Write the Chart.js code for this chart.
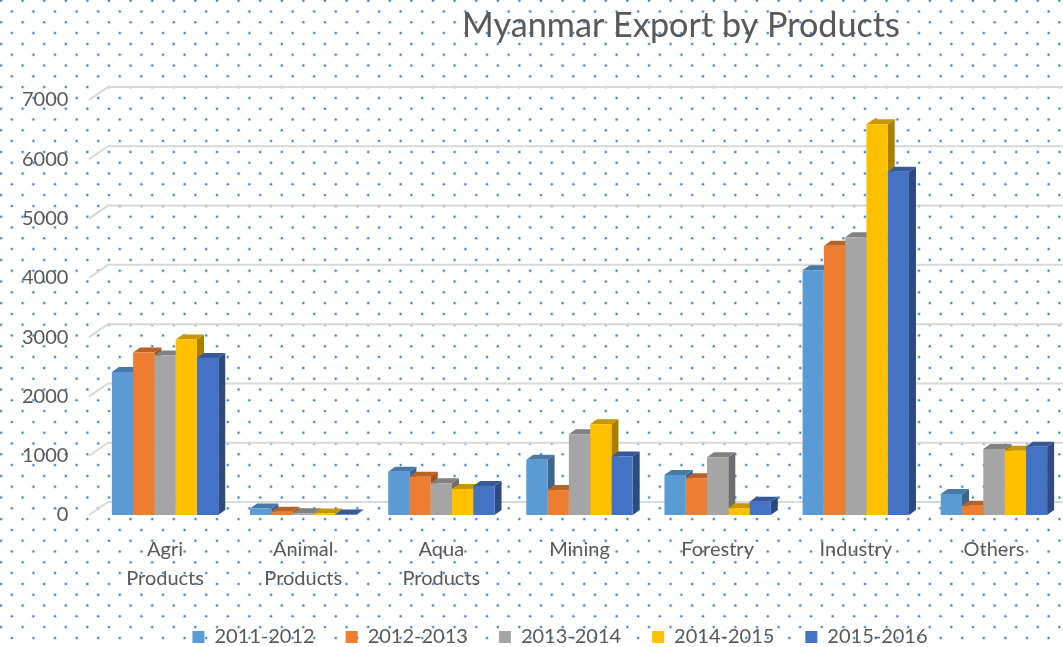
<!DOCTYPE html>
<html>
<head>
<meta charset="utf-8">
<title>Myanmar Export by Products</title>
<script src="https://cdn.jsdelivr.net/npm/chart.js@4.4.0/dist/chart.umd.min.js"></script>
<style>
  html, body { margin: 0; padding: 0; background: #fff; }
</style>
</head>
<body>
<canvas id="exportChart" width="1063" height="647"></canvas>
<script>
// chart data
const categories = [['Agri', 'Products'], ['Animal', 'Products'], ['Aqua', 'Products'], 'Mining', 'Forestry', 'Industry', 'Others'];
const seriesNames = ['2011-2012', '2012-2013', '2013-2014', '2014-2015', '2015-2016'];
const values2011 = [2410, 110, 730, 930, 675, 4130, 355];
const values2012 = [2740, 55, 645, 420, 620, 4540, 155];
const values2013 = [2690, 30, 535, 1360, 975, 4685, 1115];
const values2014 = [2960, 25, 440, 1530, 115, 6590, 1085];
const values2015 = [2650, 10, 490, 985, 225, 5790, 1150];
const yTicks = [0, 1000, 2000, 3000, 4000, 5000, 6000, 7000];
const chartTitle = 'Myanmar Export by Products';

const seriesValues = [values2011, values2012, values2013, values2014, values2015];
const seriesColors = ['#5B9BD5', '#ED7D31', '#A5A5A5', '#FFC000', '#4472C4'];

// darken a hex colour for the 3d faces
function shade(hex, f) {
    const n = parseInt(hex.slice(1), 16);
    const r = Math.round(((n >> 16) & 255) * f);
    const g = Math.round(((n >> 8) & 255) * f);
    const b = Math.round((n & 255) * f);
    return `rgb(${r},${g},${b})`;
}

// dotted backdrop like the excel pattern fill
const dottedBackground = {
    id: 'dottedBackground',
    beforeDraw(chart) {
        const ctx = chart.ctx;
        ctx.save();
        ctx.fillStyle = '#ffffff';
        ctx.fillRect(0, 0, chart.width, chart.height);
        const step = 21.6;
        for (let row = 0; row * step / 2 < chart.height + step; row++) {
            const y = 0.7 + row * step / 2;
            const xOff = (row % 2 === 0) ? 1 : 1 + step / 2;
            for (let x = xOff; x < chart.width + step; x += step) {
                ctx.fillStyle = 'rgba(91,155,213,0.3)';
                ctx.beginPath();
                ctx.arc(x, y, 1.9, 0, Math.PI * 2);
                ctx.fill();
                ctx.fillStyle = '#2a7fd0';
                ctx.beginPath();
                ctx.arc(x, y, 1.0, 0, Math.PI * 2);
                ctx.fill();
            }
        }
        ctx.restore();
    }
};

// back-wall gridlines plus the side and top faces of each column
const bars3d = {
    id: 'bars3d',
    beforeDatasetsDraw(chart) {
        const ctx = chart.ctx;
        const area = chart.chartArea;
        const yScale = chart.scales.y;
        ctx.save();
        ctx.strokeStyle = '#d9d9d9';
        ctx.lineWidth = 2;
        yTicks.forEach(v => {
            const y = yScale.getPixelForValue(v);
            ctx.beginPath();
            ctx.moveTo(area.left - 7, y);
            ctx.lineTo(area.left + 12, y - 13);
            ctx.lineTo(chart.width, y - 13);
            ctx.stroke();
        });

        const dx = 7, dy = -5;
        chart.data.datasets.forEach((ds, i) => {
            const meta = chart.getDatasetMeta(i);
            meta.data.forEach(bar => {
                const { x, y, base, width } = bar.getProps(['x', 'y', 'base', 'width'], true);
                const left = x - width / 2;
                const right = x + width / 2;
                // side
                ctx.fillStyle = shade(seriesColors[i], 0.66);
                ctx.beginPath();
                ctx.moveTo(right, y);
                ctx.lineTo(right + dx, y + dy);
                ctx.lineTo(right + dx, base + dy);
                ctx.lineTo(right, base);
                ctx.closePath();
                ctx.fill();
                // top
                ctx.fillStyle = shade(seriesColors[i], 0.78);
                ctx.beginPath();
                ctx.moveTo(left, y);
                ctx.lineTo(left + dx, y + dy);
                ctx.lineTo(right + dx, y + dy);
                ctx.lineTo(right, y);
                ctx.closePath();
                ctx.fill();
            });
        });
        ctx.restore();
    }
};

// title sits right of centre in the original
const titleText = {
    id: 'titleText',
    afterDraw(chart) {
        const ctx = chart.ctx;
        ctx.save();
        ctx.font = '30px Lato';
        const size = 30 * 438 / ctx.measureText(chartTitle).width;
        ctx.font = `${size.toFixed(1)}px Lato`;
        ctx.fillStyle = '#595959';
        ctx.textAlign = 'center';
        ctx.textBaseline = 'alphabetic';
        ctx.fillText(chartTitle, 681, 37);
        ctx.restore();
    }
};

Chart.defaults.font.family = 'Lato';
Chart.defaults.color = '#595959';

const ctx = document.getElementById('exportChart').getContext('2d');
const chart = new Chart(ctx, {
    type: 'bar',
    data: {
        labels: categories,
        datasets: seriesNames.map((name, i) => ({
            label: name,
            data: seriesValues[i],
            backgroundColor: seriesColors[i],
            borderWidth: 0,
            barPercentage: 1.0,
            categoryPercentage: 0.77
        }))
    },
    options: {
        responsive: false,
        animation: false,
        layout: {
            padding: { top: 100, left: 57, right: 0, bottom: -10 }
        },
        plugins: {
            title: { display: false },
            tooltip: { enabled: false },
            legend: {
                position: 'bottom',
                labels: {
                    boxWidth: 12,
                    boxHeight: 12,
                    padding: 31,
                    font: { size: 20 },
                    color: '#595959'
                }
            }
        },
        scales: {
            x: {
                grid: { display: false, drawTicks: false },
                border: { display: false },
                ticks: {
                    font: { size: 20, lineHeight: 1.45 },
                    color: '#595959',
                    padding: 20,
                    maxRotation: 0,
                    autoSkip: false
                },
                afterFit: axis => { axis.height = 81; }
            },
            y: {
                min: 0,
                max: 7000,
                grid: { display: false, drawTicks: false },
                border: { display: false },
                ticks: {
                    stepSize: 1000,
                    font: { size: 20 },
                    color: '#595959',
                    // mirrored so the labels are not clipped to the narrow axis box
                    mirror: true,
                    crossAlign: 'far',
                    padding: -74,
                    callback: v => String(v)
                },
                afterFit: axis => { axis.width = 39; }
            }
        }
    },
    plugins: [dottedBackground, bars3d, titleText]
});
</script>
</body>
</html>
